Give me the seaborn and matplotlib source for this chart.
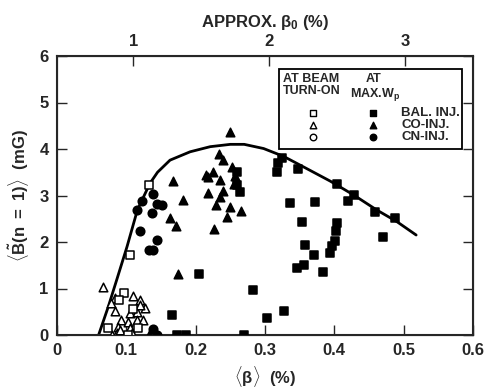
import matplotlib
matplotlib.use("Agg")
import matplotlib.pyplot as plt
import seaborn as sns
import pandas as pd
from matplotlib.patches import Rectangle

# ---------------- data ----------------
# filled squares: BAL. INJ. at max Wp
bal_max_beta = [0.319, 0.317, 0.324, 0.347, 0.336, 0.372, 0.404, 0.419, 0.428, 0.458, 0.487, 0.470,
                0.353, 0.404, 0.403, 0.401, 0.396, 0.394, 0.358, 0.371, 0.356, 0.346, 0.383, 0.282,
                0.327, 0.303, 0.269, 0.259, 0.264, 0.259, 0.205, 0.166, 0.173, 0.186]
bal_max_B = [3.69, 3.51, 3.80, 3.57, 2.83, 2.85, 3.25, 2.89, 3.01, 2.65, 2.52, 2.11,
             2.42, 2.40, 2.24, 2.03, 1.91, 1.76, 1.94, 1.72, 1.51, 1.45, 1.35, 0.97,
             0.52, 0.37, 0.0, 3.51, 3.08, 3.22, 1.31, 0.43, 0.0, 0.0]
# filled triangles: CO-INJ. at max Wp
co_max_beta = [0.250, 0.234, 0.240, 0.253, 0.225, 0.218, 0.235, 0.257, 0.255, 0.168, 0.239, 0.218,
               0.235, 0.182, 0.229, 0.249, 0.265, 0.245, 0.163, 0.227, 0.172, 0.175, 0.133, 0.215]
co_max_B = [4.37, 3.89, 3.76, 3.62, 3.51, 3.39, 3.33, 3.42, 3.25, 3.32, 3.10, 3.05,
            2.96, 2.90, 2.80, 2.75, 2.67, 2.53, 2.51, 2.29, 2.34, 1.32, 0.0, 3.45]
# filled circles: CN-INJ. at max Wp
cn_max_beta = [0.139, 0.122, 0.116, 0.144, 0.151, 0.137, 0.119, 0.144, 0.132, 0.139, 0.139, 0.144]
cn_max_B = [3.03, 2.89, 2.69, 2.81, 2.80, 2.62, 2.24, 2.04, 1.83, 1.83, 0.13, 0.0]
# open squares: BAL. INJ. at beam turn-on
bal_on_beta = [0.133, 0.105, 0.096, 0.090, 0.074, 0.117, 0.103, 0.110]
bal_on_B = [3.23, 1.72, 0.90, 0.76, 0.15, 0.14, 0.0, 0.55]
# open triangles: CO-INJ. at beam turn-on
co_on_beta = [0.066, 0.083, 0.109, 0.119, 0.083, 0.105, 0.116, 0.127, 0.120, 0.092, 0.103, 0.115,
              0.124, 0.088, 0.105, 0.079, 0.086, 0.108, 0.078, 0.091]
co_on_B = [1.03, 0.80, 0.84, 0.75, 0.52, 0.47, 0.50, 0.59, 0.65, 0.32, 0.29, 0.32,
           0.32, 0.18, 0.14, 0.0, 0.04, 0.04, 0.68, 0.10]
# open circles: CN-INJ. at beam turn-on
cn_on_beta = []
cn_on_B = []

# fitted envelope curve
curve_beta = [0.060, 0.074, 0.086, 0.101, 0.116, 0.134, 0.145, 0.163, 0.192, 0.221, 0.250,
              0.270, 0.298, 0.327, 0.360, 0.394, 0.428, 0.461, 0.490, 0.518]
curve_B = [0.0, 0.61, 1.18, 1.90, 2.69, 3.26, 3.50, 3.76, 3.94, 4.05, 4.10,
           4.10, 4.01, 3.84, 3.58, 3.31, 3.01, 2.69, 2.44, 2.15]

x_ticks = [0, 0.1, 0.2, 0.3, 0.4, 0.5, 0.6]
x_ticklabels = ["0", "0.1", "0.2", "0.3", "0.4", "0.5", "0.6"]
y_ticks = [0, 1, 2, 3, 4, 5, 6]
top_tick_beta = [0.110, 0.306, 0.502]
top_ticklabels = ["1", "2", "3"]

legend_labels = ["BAL. INJ.", "CO-INJ.", "CN-INJ."]
legend_markers = ["s", "^", "o"]

# ---------------- plotting ----------------
sns.set_style("ticks")
plt.rcParams['font.family'] = ['Liberation Sans', 'DejaVu Sans']
plt.rcParams['mathtext.fontset'] = 'custom'
plt.rcParams['mathtext.rm'] = 'Liberation Sans:bold'
plt.rcParams['mathtext.it'] = 'Liberation Sans:bold'
plt.rcParams['mathtext.bf'] = 'Liberation Sans:bold'

fig = plt.figure(figsize=(4.85, 3.89), dpi=100)
ax = fig.add_axes([57/485, 1-335/389, 416/485, 279/389])

curve_df = pd.DataFrame({"beta": curve_beta, "B": curve_B})
sns.lineplot(data=curve_df, x="beta", y="B", sort=False, color="black", linewidth=2.0, ax=ax)

ms = 38
def pts(bx, by, marker, filled):
    if len(bx) == 0:
        return
    df = pd.DataFrame({"beta": bx, "B": by})
    sns.scatterplot(data=df, x="beta", y="B", marker=marker, s=ms, ax=ax, legend=False,
                    facecolors="black" if filled else "white", edgecolors="black",
                    linewidths=1.1, zorder=3)

pts(co_on_beta, co_on_B, "^", False)
pts(bal_on_beta, bal_on_B, "s", False)
pts(cn_on_beta, cn_on_B, "o", False)
pts(bal_max_beta, bal_max_B, "s", True)
pts(co_max_beta, co_max_B, "^", True)
pts(cn_max_beta, cn_max_B, "o", True)

ax.set_xlim(0, 0.6)
ax.set_ylim(0, 6)
ax.set_xticks(x_ticks)
ax.set_xticklabels(x_ticklabels)
ax.set_yticks(y_ticks)
ax.tick_params(direction="in", length=7, width=1.0, labelsize=12, top=False, right=True, pad=6)
for lab in ax.get_xticklabels() + ax.get_yticklabels():
    lab.set_fontweight("bold")
for sp in ax.spines.values():
    sp.set_linewidth(1.5)
    sp.set_visible(True)

ax.set_xlabel(r"$\langle\beta\rangle$  (%)", fontsize=12, fontweight="bold", labelpad=4)
ax.set_ylabel(r"$\langle\tilde{\mathrm{B}}(\mathrm{n\ =\ 1})\rangle$  (mG)", fontsize=12,
              fontweight="bold", labelpad=6)

ax2 = ax.twiny()
ax2.set_xlim(ax.get_xlim())
ax2.set_xticks(top_tick_beta)
ax2.set_xticklabels(top_ticklabels)
ax2.tick_params(direction="in", length=7, width=1.0, labelsize=12, pad=5)
for lab in ax2.get_xticklabels():
    lab.set_fontweight("bold")
ax2.set_xlabel(r"APPROX. $\beta_0$ (%)", fontsize=12, fontweight="bold", labelpad=5)

# manual legend box
ax.add_patch(Rectangle((0.534, 0.668), 0.440, 0.285, transform=ax.transAxes,
                       facecolor="white", edgecolor="black", linewidth=1.3, zorder=5))
fs_head = 9
fs_lab = 9.5
ax.text(0.543, 0.940, "AT BEAM\nTURN-ON", transform=ax.transAxes, fontsize=fs_head,
        fontweight="bold", va="top", ha="left", linespacing=1.0, zorder=6)
ax.text(0.762, 0.940, "AT", transform=ax.transAxes, fontsize=fs_head,
        fontweight="bold", va="top", ha="center", zorder=6)
ax.text(0.705, 0.893, r"MAX.W$_\mathrm{p}$", transform=ax.transAxes, fontsize=fs_head,
        fontweight="bold", va="top", ha="left", zorder=6)
rows_y = [0.796, 0.753, 0.710]
for yy, lab, mk in zip(rows_y, legend_labels, legend_markers):
    ax.scatter([0.615], [yy], marker=mk, s=22, facecolors="white", edgecolors="black",
               linewidths=1.0, transform=ax.transAxes, zorder=6, clip_on=False)
    ax.scatter([0.760], [yy], marker=mk, s=22, facecolors="black", edgecolors="black",
               transform=ax.transAxes, zorder=6, clip_on=False)
    ax.text(0.827, yy, lab, transform=ax.transAxes, fontsize=fs_lab, fontweight="bold",
            va="center", ha="left", zorder=6)

fig.savefig("out.png", dpi=100)
